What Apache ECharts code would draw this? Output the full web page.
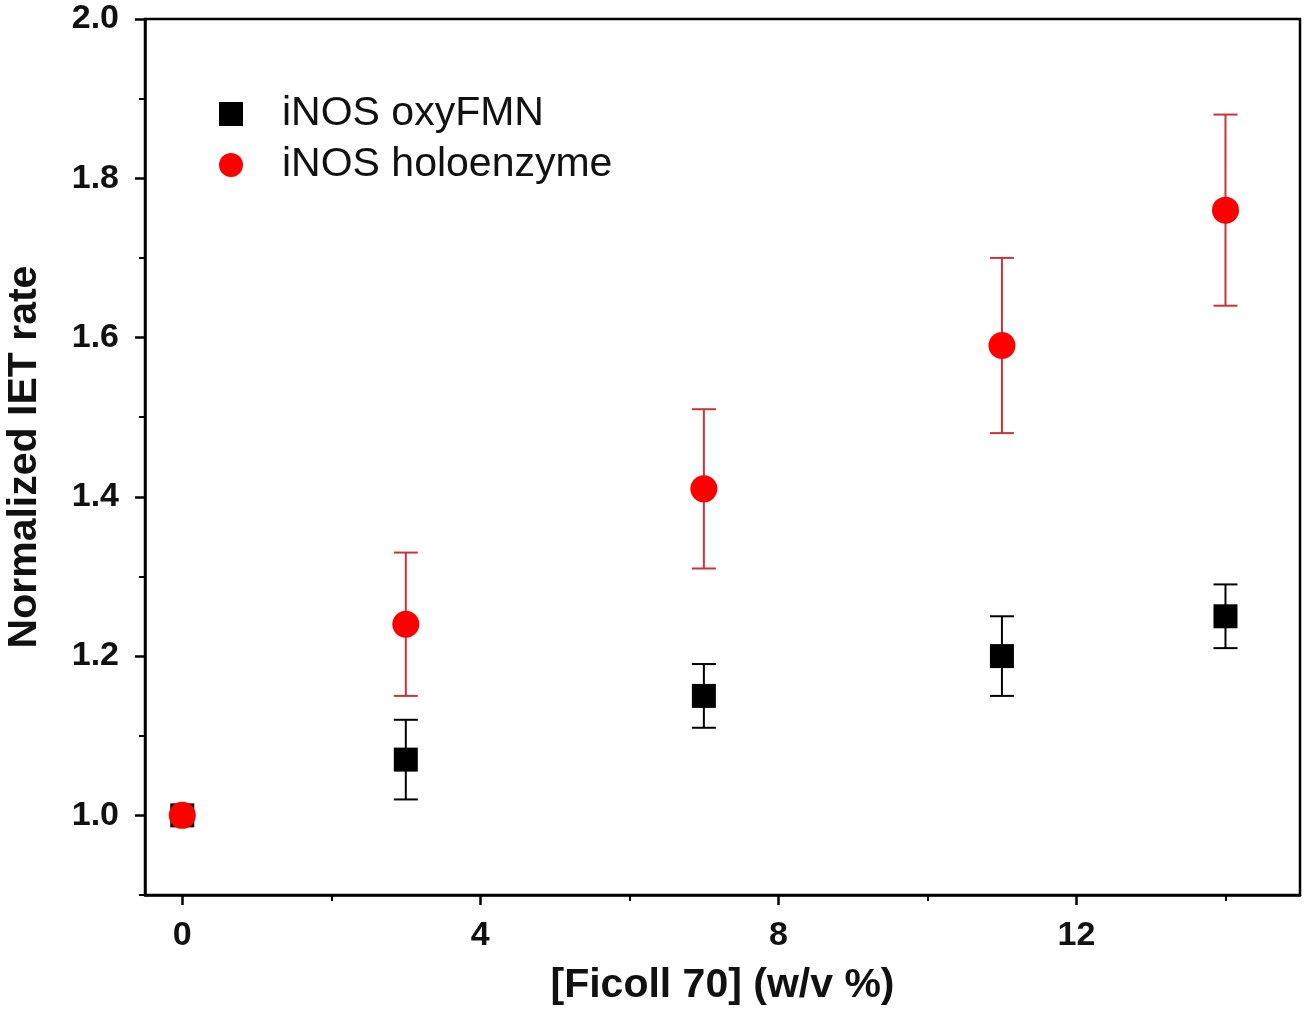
<!DOCTYPE html>
<html>
<head>
<meta charset="utf-8">
<script src="https://cdn.jsdelivr.net/npm/echarts@6/dist/echarts.min.js"></script>
<style>
  html, body { margin: 0; padding: 0; background: #fff; }
  #chart { width: 1308px; height: 1017px; }
</style>
</head>
<body>
<div id="chart"></div>
<script>
// ficoll concentration (w/v %)
const xValues = [0, 3, 7, 11, 14]
// iNOS oxyFMN
const oxyMean = [1.0, 1.07, 1.15, 1.20, 1.25]
const oxyErr = [0, 0.05, 0.04, 0.05, 0.04]
// iNOS holoenzyme
const holoMean = [1.0, 1.24, 1.41, 1.59, 1.76]
const holoErr = [0, 0.09, 0.10, 0.11, 0.12]
// ticks
const xMajor = [0, 4, 8, 12]
const xMinor = [2, 6, 10, 14]
const yMajor = [1.0, 1.2, 1.4, 1.6, 1.8, 2.0]
const yMinor = [0.9, 1.1, 1.3, 1.5, 1.7, 1.9]

const chart = echarts.init(document.getElementById('chart'))

function points(mean) {
  return xValues.map((x, i) => [x, mean[i]])
}
function errData(mean, err) {
  return xValues.map((x, i) => [x, mean[i] - err[i], mean[i] + err[i]])
}
// error bar with caps
function errRender(color) {
  return function (params, api) {
    const lo = api.coord([api.value(0), api.value(1)])
    const hi = api.coord([api.value(0), api.value(2)])
    if (Math.abs(hi[1] - lo[1]) < 1) return
    const w = 12
    const style = { stroke: color, lineWidth: 2 }
    return {
      type: 'group',
      children: [
        { type: 'line', shape: { x1: lo[0], y1: lo[1], x2: hi[0], y2: hi[1] }, style },
        { type: 'line', shape: { x1: lo[0] - w, y1: lo[1], x2: lo[0] + w, y2: lo[1] }, style },
        { type: 'line', shape: { x1: hi[0] - w, y1: hi[1], x2: hi[0] + w, y2: hi[1] }, style }
      ]
    }
  }
}

const fontFam = 'Liberation Sans, Arial, sans-serif'
const axisLine = { show: true, onZero: false, lineStyle: { color: '#000', width: 2.5 } }

const option = {
  animation: false,
  backgroundColor: '#fff',
  grid: {
    left: 145, right: 8, top: 19, bottom: 122,
    outerBoundsMode: 'none',
    show: true, borderColor: '#000', borderWidth: 2.5
  },
  legend: {
    left: 214, top: 86,
    orient: 'vertical',
    itemWidth: 24, itemHeight: 24,
    itemGap: 5,
    textStyle: { fontFamily: fontFam, fontSize: 41, color: '#111', padding: [0, 0, 0, 34], lineHeight: 46 },
    data: [
      { name: 'iNOS oxyFMN', icon: 'rect' },
      { name: 'iNOS holoenzyme', icon: 'circle' }
    ]
  },
  xAxis: [
    {
      type: 'value', min: -0.5, max: 15, position: 'bottom',
      name: '[Ficoll 70] (w/v %)', nameLocation: 'middle', nameGap: 70,
      nameTextStyle: { fontFamily: fontFam, fontSize: 41, fontWeight: 'bold', color: '#111' },
      axisLine,
      splitLine: { show: false },
      axisTick: { show: true, length: 10, customValues: xMajor, lineStyle: { width: 2.5, color: '#000' } },
      axisLabel: { customValues: xMajor, margin: 24, fontFamily: fontFam, fontSize: 34, fontWeight: 'bold', color: '#111' }
    },
    {
      type: 'value', min: -0.5, max: 15, position: 'bottom',
      axisLine: { show: false, onZero: false },
      splitLine: { show: false },
      axisTick: { show: true, length: 6, customValues: xMinor, lineStyle: { width: 2, color: '#000' } },
      axisLabel: { show: false }
    }
  ],
  yAxis: [
    {
      type: 'value', min: 0.9, max: 2.0, position: 'left',
      name: 'Normalized IET rate', nameLocation: 'middle', nameGap: 100,
      nameTextStyle: { fontFamily: fontFam, fontSize: 41, fontWeight: 'bold', color: '#111' },
      axisLine,
      splitLine: { show: false },
      axisTick: { show: true, length: 10, customValues: yMajor, lineStyle: { width: 2.5, color: '#000' } },
      axisLabel: {
        customValues: yMajor, margin: 26, fontFamily: fontFam, fontSize: 34, fontWeight: 'bold', color: '#111',
        formatter: v => v.toFixed(1)
      }
    },
    {
      type: 'value', min: 0.9, max: 2.0, position: 'left',
      axisLine: { show: false, onZero: false },
      splitLine: { show: false },
      axisTick: { show: true, length: 6, customValues: yMinor, lineStyle: { width: 2, color: '#000' } },
      axisLabel: { show: false }
    }
  ],
  series: [
    {
      type: 'custom', name: 'oxyErr', renderItem: errRender('#000'),
      data: errData(oxyMean, oxyErr), z: 2, silent: true
    },
    {
      type: 'custom', name: 'holoErr', renderItem: errRender('#c8343a'),
      data: errData(holoMean, holoErr), z: 2, silent: true
    },
    {
      type: 'scatter', name: 'iNOS oxyFMN', symbol: 'rect', symbolSize: 24,
      itemStyle: { color: '#000', opacity: 1 }, data: points(oxyMean), z: 3
    },
    {
      type: 'scatter', name: 'iNOS holoenzyme', symbol: 'circle', symbolSize: 27,
      itemStyle: { color: '#ff0000', opacity: 1 }, data: points(holoMean), z: 4
    }
  ]
}

chart.setOption(option)
</script>
</body>
</html>
